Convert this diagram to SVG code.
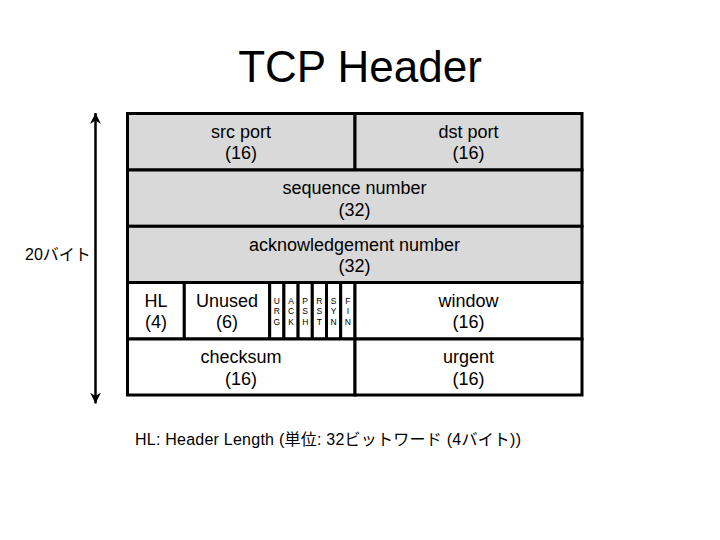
<svg xmlns="http://www.w3.org/2000/svg" width="720" height="540" viewBox="0 0 720 540">
<defs>
<style>
.cell{stroke:#000;stroke-width:3}
.g{fill:#d9d9d9}
.w{fill:#fff}
.t{font-family:"Liberation Sans","Noto Sans CJK JP",sans-serif;font-size:18px;fill:#000;text-anchor:middle}
.f{font-family:"Liberation Sans",sans-serif;font-size:8.5px;fill:#000;text-anchor:middle}
.jp{font-family:"Liberation Sans","Noto Sans CJK JP",sans-serif;font-size:16px;fill:#000}
.conn{stroke:#000;stroke-width:2.5;fill:none}
</style>
<marker id="ah" markerUnits="userSpaceOnUse" markerWidth="12" markerHeight="11" refX="11" refY="5.5" orient="auto-start-reverse" viewBox="0 0 12 11">
<path d="M0,0 L11,5.5 L0,11 L3.5,5.5 Z" fill="#000"/>
</marker>
</defs>
<rect width="720" height="540" fill="#fff"/>
<text x="360" y="82" style="font-family:'Liberation Sans',sans-serif;font-size:44px;text-anchor:middle;fill:#000">TCP Header</text>

<g id="src-port"><rect class="cell g" x="127.5" y="113.5" width="227.5" height="56.5"/><text class="t" x="241" y="138">src port</text><text class="t" x="241" y="159">(16)</text></g>
<g id="dst-port"><rect class="cell g" x="355" y="113.5" width="227" height="56.5"/><text class="t" x="468.5" y="138">dst port</text><text class="t" x="468.5" y="159">(16)</text></g>
<g id="sequence-number"><rect class="cell g" x="127.5" y="170" width="454.5" height="56.3"/><text class="t" x="354.5" y="194">sequence number</text><text class="t" x="354.5" y="215.5">(32)</text></g>
<g id="ack-number"><rect class="cell g" x="127.5" y="226.3" width="454.5" height="56.2"/><text class="t" x="354.5" y="250.5">acknowledgement number</text><text class="t" x="354.5" y="272">(32)</text></g>
<g id="hl"><rect class="cell w" x="127.5" y="282.5" width="56.8" height="56.5"/><text class="t" x="156" y="306.5">HL</text><text class="t" x="156" y="328">(4)</text></g>
<g id="unused"><rect class="cell w" x="184.3" y="282.5" width="85.4" height="56.5"/><text class="t" x="227" y="306.5">Unused</text><text class="t" x="227" y="328">(6)</text></g>
<g id="urg"><rect class="cell w" x="269.7" y="282.5" width="14.2" height="56.5"/><text class="f" x="276.8" y="303.5">U</text><text class="f" x="276.8" y="314">R</text><text class="f" x="276.8" y="325">G</text></g>
<g id="ack"><rect class="cell w" x="283.9" y="282.5" width="14.2" height="56.5"/><text class="f" x="291" y="303.5">A</text><text class="f" x="291" y="314">C</text><text class="f" x="291" y="325">K</text></g>
<g id="psh"><rect class="cell w" x="298.1" y="282.5" width="14.2" height="56.5"/><text class="f" x="305.2" y="303.5">P</text><text class="f" x="305.2" y="314">S</text><text class="f" x="305.2" y="325">H</text></g>
<g id="rst"><rect class="cell w" x="312.3" y="282.5" width="14.2" height="56.5"/><text class="f" x="319.4" y="303.5">R</text><text class="f" x="319.4" y="314">S</text><text class="f" x="319.4" y="325">T</text></g>
<g id="syn"><rect class="cell w" x="326.5" y="282.5" width="14.2" height="56.5"/><text class="f" x="333.6" y="303.5">S</text><text class="f" x="333.6" y="314">Y</text><text class="f" x="333.6" y="325">N</text></g>
<g id="fin"><rect class="cell w" x="340.7" y="282.5" width="14.3" height="56.5"/><text class="f" x="347.9" y="303.5">F</text><text class="f" x="347.9" y="314">I</text><text class="f" x="347.9" y="325">N</text></g>
<g id="window"><rect class="cell w" x="355" y="282.5" width="227" height="56.5"/><text class="t" x="468.5" y="306.5">window</text><text class="t" x="468.5" y="328">(16)</text></g>
<g id="checksum"><rect class="cell w" x="127.5" y="339" width="227.5" height="56"/><text class="t" x="241" y="363">checksum</text><text class="t" x="241" y="384.5">(16)</text></g>
<g id="urgent"><rect class="cell w" x="355" y="339" width="227" height="56"/><text class="t" x="468.5" y="363">urgent</text><text class="t" x="468.5" y="384.5">(16)</text></g>

<g id="connectors">
<line class="conn" x1="95.5" y1="113" x2="95.5" y2="403.5" marker-start="url(#ah)" marker-end="url(#ah)"/>
</g>
<g id="size-label"><text class="jp" x="25" y="260">20バイト</text></g>
<g id="footnote"><text class="jp" x="135" y="445" textLength="386" lengthAdjust="spacing">HL: Header Length (単位: 32ビットワード (4バイト))</text></g>
</svg>
